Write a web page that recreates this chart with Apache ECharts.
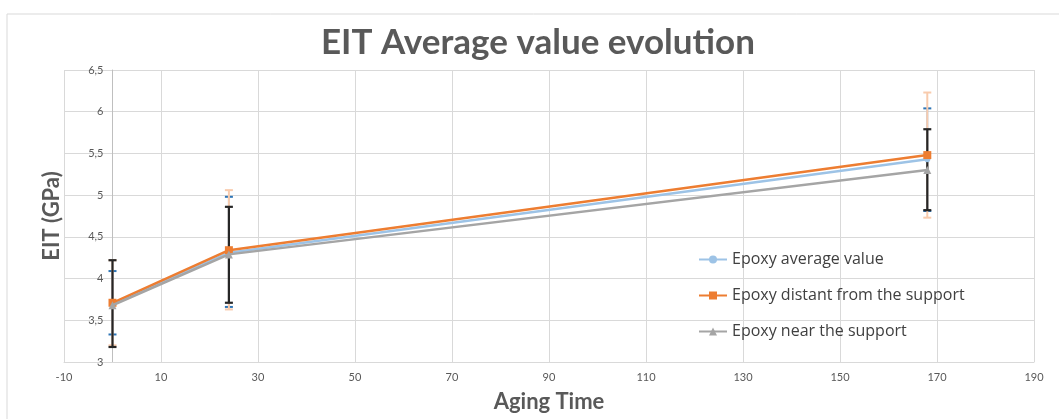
<!DOCTYPE html>
<html>
<head>
<meta charset="utf-8">
<title>EIT Average value evolution</title>
<script src="https://cdn.jsdelivr.net/npm/echarts@6/dist/echarts.min.js"></script>
<style>
  html, body { margin: 0; padding: 0; background: #ffffff; }
  #chart { width: 1059px; height: 419px; }
</style>
</head>
<body>
<div id="chart"></div>
<script>
// Aging time (x) and EIT values in GPa for each epoxy location
const agingTime = [0, 24, 168];

const avgValue = [3.69, 4.31, 5.43];
const distantValue = [3.71, 4.34, 5.48];
const nearValue = [3.68, 4.29, 5.30];

// Error bar ranges (low / high) per point
const avgLow = [3.33, 3.66, 4.81];
const avgHigh = [4.09, 4.98, 6.04];
const distantLow = [3.20, 3.63, 4.73];
const distantHigh = [4.22, 5.06, 6.23];
const nearLow = [3.18, 3.71, 4.82];
const nearHigh = [4.22, 4.86, 5.79];

const seriesNames = ['Epoxy average value', 'Epoxy distant from the support', 'Epoxy near the support'];

const FONT = 'Lato, "Open Sans", sans-serif';
const LEGEND_FONT = '"Open Sans", Lato, sans-serif';

// Plot box, and the vertical axis drawn where x = 0
const GRID = { left: 64, right: 25, top: 70, bottom: 57 };
const X_MIN = -10, X_MAX = 190;
const PLOT_W = 1059 - GRID.left - GRID.right;
const Y_AXIS_SHIFT = -(0 - X_MIN) / (X_MAX - X_MIN) * PLOT_W;

function pairs(xs, ys) {
  return xs.map((x, i) => [x, ys[i]]);
}
function errData(xs, lo, hi) {
  return xs.map((x, i) => [x, lo[i], hi[i]]);
}

// Vertical error bar with end caps
function errorBar(lineColor, capColor, lineWidth, capHalf) {
  return function (params, api) {
    const x = api.value(0);
    const top = api.coord([x, api.value(2)]);
    const bot = api.coord([x, api.value(1)]);
    const style = { stroke: lineColor, lineWidth: lineWidth };
    const capStyle = { stroke: capColor, lineWidth: lineWidth };
    return {
      type: 'group',
      children: [
        { type: 'line', shape: { x1: top[0], y1: top[1], x2: bot[0], y2: bot[1] }, style: style },
        { type: 'line', shape: { x1: top[0] - capHalf, y1: top[1], x2: top[0] + capHalf, y2: top[1] }, style: capStyle },
        { type: 'line', shape: { x1: bot[0] - capHalf, y1: bot[1], x2: bot[0] + capHalf, y2: bot[1] }, style: capStyle }
      ]
    };
  };
}

const chart = echarts.init(document.getElementById('chart'), null, { renderer: 'canvas' });

chart.setOption({
  backgroundColor: '#ffffff',
  animation: false,
  title: {
    text: 'EIT Average value evolution',
    left: 321,
    top: 25,
    padding: 0,
    textStyle: { fontFamily: FONT, fontSize: 35, fontWeight: 'bold', color: '#595959' }
  },
  graphic: [
    {
      type: 'rect',
      shape: { x: 7, y: 14, width: 1200, height: 600 },
      style: { fill: 'none', stroke: '#d9d9d9', lineWidth: 1 },
      silent: true,
      z: -1
    }
  ],
  legend: {
    orient: 'vertical',
    left: 693,
    top: 245,
    itemWidth: 28,
    itemHeight: 10,
    itemGap: 17,
    data: seriesNames,
    textStyle: { fontFamily: LEGEND_FONT, fontSize: 16, color: '#404040', lineHeight: 19 }
  },
  grid: {
    left: GRID.left, right: GRID.right, top: GRID.top, bottom: GRID.bottom,
    containLabel: false,
    outerBoundsMode: 'none'
  },
  xAxis: {
    type: 'value',
    min: X_MIN,
    max: X_MAX,
    interval: 20,
    name: 'Aging Time',
    nameLocation: 'middle',
    nameGap: 29,
    nameTextStyle: { fontFamily: FONT, fontSize: 22, fontWeight: 'bold', color: '#595959' },
    axisLine: { show: true, onZero: false, lineStyle: { color: '#d9d9d9' } },
    axisTick: { show: false },
    axisLabel: { fontFamily: FONT, fontSize: 11, color: '#595959', margin: 10 },
    splitLine: { show: true, lineStyle: { color: '#d9d9d9', width: 1 } }
  },
  yAxis: {
    type: 'value',
    min: 3,
    max: 6.5,
    interval: 0.5,
    offset: Y_AXIS_SHIFT,
    name: 'EIT (GPa)',
    nameLocation: 'middle',
    nameRotate: 90,
    nameGap: 50,
    nameTextStyle: { fontFamily: FONT, fontSize: 22, fontWeight: 'bold', color: '#595959' },
    axisLine: { show: true, onZero: false, lineStyle: { color: '#bfbfbf' } },
    axisTick: { show: false },
    axisLabel: {
      fontFamily: FONT, fontSize: 11, color: '#595959', margin: 9,
      formatter: v => String(v).replace('.', ',')
    },
    splitLine: { show: true, lineStyle: { color: '#d9d9d9', width: 1 } }
  },
  series: [
    {
      type: 'custom',
      name: 'avgErr',
      renderItem: errorBar('#9dc3e6', '#2e75b6', 2, 4),
      data: errData(agingTime, avgLow, avgHigh),
      z: 1,
      silent: true
    },
    {
      type: 'custom',
      name: 'distantErr',
      renderItem: errorBar('#f8cbad', '#f8cbad', 2, 4),
      data: errData(agingTime, distantLow, distantHigh),
      z: 2,
      silent: true
    },
    {
      type: 'custom',
      name: 'nearErr',
      renderItem: errorBar('#262626', '#262626', 2.2, 4),
      data: errData(agingTime, nearLow, nearHigh),
      z: 3,
      silent: true
    },
    {
      type: 'line',
      name: seriesNames[0],
      data: pairs(agingTime, avgValue),
      symbol: 'circle',
      symbolSize: 6,
      lineStyle: { color: '#9dc3e6', width: 2.5 },
      itemStyle: { color: '#9dc3e6' },
      z: 4
    },
    {
      type: 'line',
      name: seriesNames[1],
      data: pairs(agingTime, distantValue),
      symbol: 'rect',
      symbolSize: 8,
      lineStyle: { color: '#ed7d31', width: 2.5 },
      itemStyle: { color: '#ed7d31' },
      z: 5
    },
    {
      type: 'line',
      name: seriesNames[2],
      data: pairs(agingTime, nearValue),
      symbol: 'triangle',
      symbolSize: 8,
      lineStyle: { color: '#a5a5a5', width: 2.5 },
      itemStyle: { color: '#a5a5a5' },
      z: 6
    }
  ]
});
</script>
</body>
</html>
